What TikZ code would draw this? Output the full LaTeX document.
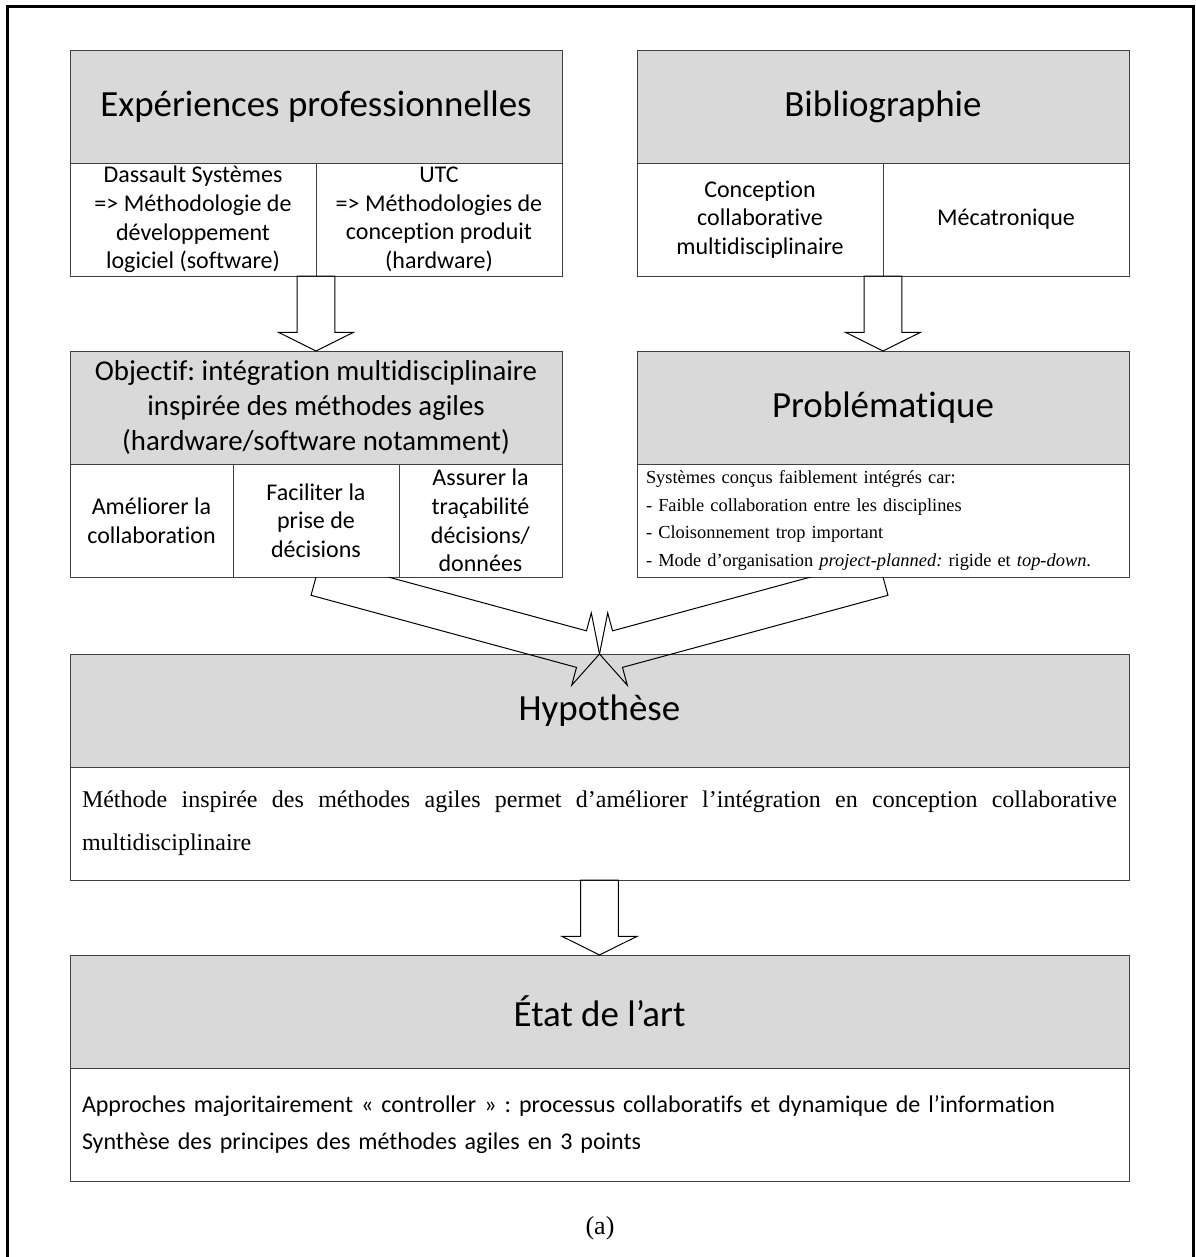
\documentclass[tikz,border=0pt]{standalone}
\usepackage{fontspec}
\setmainfont{Carlito}[Ligatures=CommonOff]
\newfontfamily\tnr{Liberation Serif}
\usetikzlibrary{calc,positioning}

\definecolor{headgray}{HTML}{D9D9D9}
\definecolor{boxline}{HTML}{404040}

\newcommand{\bigarrow}[2]{%
        \coordinate (ahead) at ($(#2)!14pt!(#1)$);
        \draw[bigarr] ($(#1)!14.2pt!90:(#2)$) -- ($(ahead)!14.2pt!90:(#2)$) -- ($(ahead)!28.1pt!90:(#2)$) -- (#2)
                -- ($(ahead)!28.1pt!-90:(#2)$) -- ($(ahead)!14.2pt!-90:(#2)$) -- ($(#1)!14.2pt!-90:(#2)$) -- cycle;
}

\begin{document}
\frenchspacing
\begin{tikzpicture}[x=0.75pt, y=-0.75pt,
        head/.style={draw=boxline, fill=headgray, line width=0.75pt, outer sep=0pt, inner sep=2pt,
                minimum height=84.75pt, align=center, font=\fontsize{27.7}{34}\selectfont},
        cell/.style={draw=boxline, fill=white, line width=0.75pt, outer sep=0pt, inner sep=0pt,
                minimum height=84.75pt, align=center, font=\fontsize{18}{21.5}\selectfont},
        bigarr/.style={draw=black, line width=0.75pt, line join=miter}]

        \useasboundingbox (0,0) rectangle (1196,1257);
        \draw[line width=2.25pt] (7,1257) -- (7,6.5) -- (1193.3,6.5) -- (1193.3,1257);

        \node[head, minimum width=369pt] (exp) at (316,106.5) {Expériences professionnelles};
        \node[cell, minimum width=184.5pt, anchor=north west] (exp1) at (exp.south west)
                {Dassault Systèmes\\=> Méthodologie de\\développement\\logiciel (software)};
        \node[cell, minimum width=184.5pt, right=0pt of exp1] (exp2)
                {UTC\\=> Méthodologies de\\conception produit\\(hardware)};

        \node[head, minimum width=369pt] (bib) at (883,106.5) {Bibliographie};
        \node[cell, minimum width=184.5pt, anchor=north west] (bib1) at (bib.south west)
                {Conception\\collaborative\\multidisciplinaire};
        \node[cell, minimum width=184.5pt, right=0pt of bib1] (bib2) {Mécatronique};

        \node[head, minimum width=369pt, font=\fontsize{21.6}{26.25}\selectfont] (obj) at (316,407.5)
                {Objectif: intégration multidisciplinaire\\inspirée des méthodes agiles\\(hardware/software notamment)};
        \node[cell, minimum width=122.25pt, anchor=north west] (obj1) at (obj.south west) {Améliorer la\\collaboration};
        \node[cell, minimum width=124.5pt, right=0pt of obj1] (obj2) {Faciliter la\\prise de\\décisions};
        \node[cell, minimum width=122.25pt, right=0pt of obj2] (obj3) {Assurer la\\traçabilité\\décisions/\\données};

        \node[head, minimum width=369pt] (prob) at (883,407.5) {Problématique};
        \node[cell, below=0pt of prob, text width=355.5pt, inner xsep=6.75pt, align=left,
                font=\tnr\fontsize{13.8}{20.6}\selectfont] (probtxt)
                {Systèmes conçus faiblement intégrés car:\\- Faible collaboration entre les disciplines\\- Cloisonnement trop important\\- Mode d’organisation \textit{project-planned:} rigide et \textit{top-down}.};

        \node[head, minimum width=794.25pt] (hyp) at (599.5,710.5) {Hypothèse};
        \node[cell, below=0pt of hyp, text width=776.25pt, inner xsep=9pt, align=justify,
                font={\tnr\fontsize{18}{32.25}\selectfont\hyphenpenalty=10000}] (hyptxt)
                {Méthode inspirée des méthodes agiles permet d’améliorer l’intégration en conception collaborative\linebreak multidisciplinaire};

        \node[head, minimum width=794.25pt] (etat) at (599.5,1011.5) {État de l’art};
        \node[cell, below=0pt of etat, text width=776.25pt, inner xsep=9pt, align=left,
                font=\fontsize{18}{27.5}\selectfont] (etattxt)
                {Approches majoritairement « controller » : processus collaboratifs et dynamique de l’information\\Synthèse des principes des méthodes agiles en 3 points};

        \node[font=\tnr\fontsize{19.5}{23}\selectfont] (caption) at (600,1228) {(a)};

        \bigarrow{exp1.south east}{obj.north}
        \bigarrow{bib1.south east}{prob.north}
        \bigarrow{hyptxt.south}{etat.north}
        \begin{scope}
                \clip (obj1.south west) rectangle (hyp.south east);
                \bigarrow{obj2.south}{hyp.north}
                \bigarrow{probtxt.south}{hyp.north}
        \end{scope}

\end{tikzpicture}
\end{document}
